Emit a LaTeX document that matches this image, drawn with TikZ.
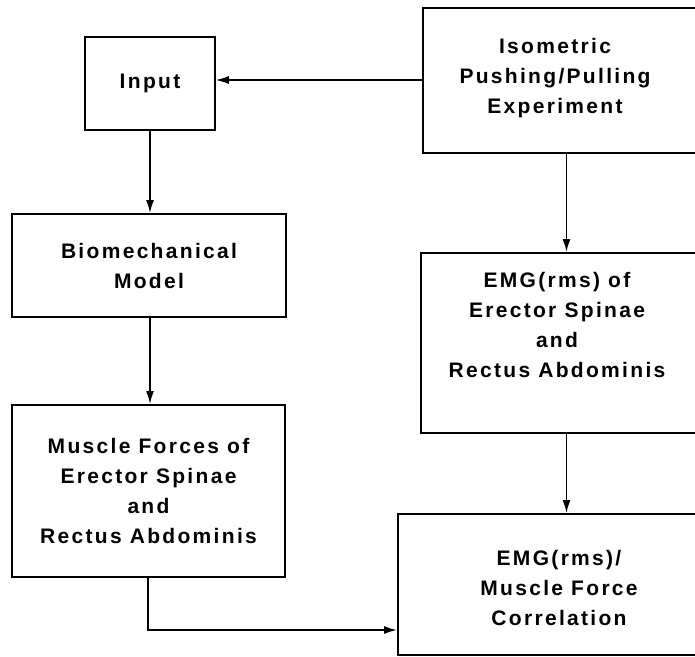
\documentclass[tikz,border=0pt]{standalone}
\usepackage{fontspec}
\newfontfamily\lettering[LetterSpace=11]{Liberation Sans Bold}
\usetikzlibrary{arrows.meta}

\tikzset{
    blk/.style={draw, line width=1.8pt, align=center, inner sep=0pt},
    txt/.style={align=center, inner sep=0pt},
    arr/.style={line width=1.8pt, -{Latex[length=13pt, width=8pt]}},
}

\begin{document}
\begin{tikzpicture}[x=1pt, y=-1pt, font=\lettering\fontsize{21}{30}\selectfont]
    \useasboundingbox (0, 0) rectangle (695, 656);
    \clip (0, 0) rectangle (695, 656);

    \node [blk, minimum width=130, minimum height=93] (input) at (150, 83.5) {Input};
    \node [blk, minimum width=274, minimum height=103] (biomech) at (149, 265.5) {Biomechanical\\Model};
    \node [blk, minimum width=273, minimum height=172] (muscle) at (148.5, 491) {Muscle Forces of\\Erector Spinae\\and\\Rectus Abdominis};

    \node [blk, minimum width=287, minimum height=145] (iso) at (566.5, 80.5) {};
        \node [txt] (isotxt) at (555, 78) {Isometric\\Pushing/Pulling\\Experiment};
    \node [blk, minimum width=289, minimum height=180] (emg) at (565.5, 343) {};
        \node [txt] (emgtxt) at (557, 325) {EMG(rms) of\\Erector Spinae\\and\\Rectus Abdominis};
    \node [blk, minimum width=322, minimum height=141] (corr) at (559, 584.5) {};
        \node [txt] (corrtxt) at (559, 588) {EMG(rms)/\\Muscle Force\\Correlation};

    \coordinate (bend) at (148, 630);

    \draw [arr, line width=1.2pt] (iso.west |- 0, 80) -- (input.east |- 0, 80);
    \draw [arr] (input.south) -- (input.south |- biomech.north);
    \draw [arr] (input.south |- biomech.south) -- (input.south |- muscle.north);
    \draw [arr] (iso.south) -- (iso.south |- emg.north);
    \draw [arr] (iso.south |- emg.south) -- (iso.south |- corr.north);
    \draw [arr] (bend |- muscle.south) -- (bend) -- (bend -| corr.west);
\end{tikzpicture}
\end{document}
